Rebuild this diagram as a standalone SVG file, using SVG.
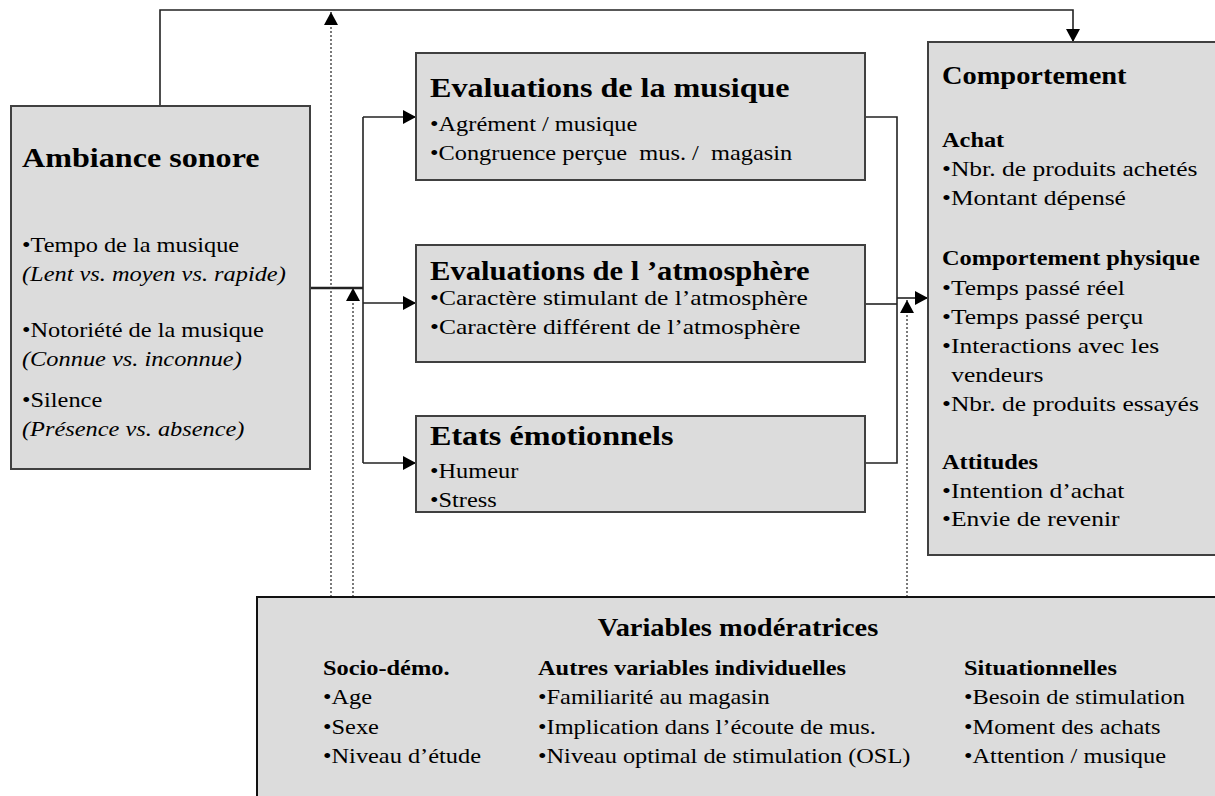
<svg xmlns="http://www.w3.org/2000/svg" width="1215" height="796" viewBox="0 0 1215 796">
<style>
.box{fill:#dcdcdc;stroke:#404040;stroke-width:2}
.box2{fill:#dcdcdc;stroke:#111;stroke-width:2}
.ln{fill:none;stroke:#222;stroke-width:1.6}
.dot{fill:none;stroke:#333;stroke-width:1.3;stroke-dasharray:2 2}
text{font-family:"Liberation Serif","Times New Roman",serif;fill:#000;font-size:21px}
.t{font-weight:bold;font-size:27.7px}
.h{font-weight:bold;font-size:24.5px}
.b{font-weight:bold}
.i{font-style:italic}
.lg{font-size:22px}
</style>
<defs>
<marker id="ar" markerUnits="userSpaceOnUse" markerWidth="14" markerHeight="14" refX="13" refY="7" orient="auto">
<path d="M0,0 L13,7 L0,14 z" fill="#000"/>
</marker>
</defs>
<g id="connectors">
<path class="ln" d="M160,106 V10 H1073 V42" marker-end="url(#ar)"/>
<path class="ln" d="M310,288 H363" style="stroke-width:2.5"/>
<path class="ln" d="M363,117 V463"/>
<path class="ln" d="M363,117 H416" marker-end="url(#ar)"/>
<path class="ln" d="M363,303 H416" marker-end="url(#ar)"/>
<path class="ln" d="M363,463 H416" marker-end="url(#ar)"/>
<path class="ln" d="M865,117 H897 V463 H865"/>
<path class="ln" d="M865,304 H897"/>
<path class="ln" d="M897,298 H928" marker-end="url(#ar)"/>
<path class="dot" d="M331,597 V12" marker-end="url(#ar)"/>
<path class="dot" d="M353,597 V288" marker-end="url(#ar)"/>
<path class="dot" d="M907,597 V300" marker-end="url(#ar)"/>
</g>
<g id="ambiance">
<rect class="box" x="11" y="106" width="299" height="363"/>
<g transform="translate(22,0) scale(1.16,1)">
<text class="t" x="0" y="167">Ambiance sonore</text>
<text x="0" y="252">•Tempo de la musique</text>
<text class="i" x="0" y="281">(Lent vs. moyen vs. rapide)</text>
<text x="0" y="337">•Notoriété de la musique</text>
<text class="i" x="0" y="366">(Connue vs. inconnue)</text>
<text x="0" y="407">•Silence</text>
<text class="i" x="0" y="436">(Présence vs. absence)</text>
</g>
</g>
<g id="eval-musique">
<rect class="box" x="416" y="53" width="449" height="127"/>
<g transform="translate(430,0) scale(1.16,1)">
<text class="t" x="0" y="97">Evaluations de la musique</text>
<text x="0" y="131">•Agrément / musique</text>
<text x="0" y="160" xml:space="preserve">•Congruence perçue  mus. /  magasin</text>
</g>
</g>
<g id="eval-atmosphere">
<rect class="box" x="416" y="245" width="449" height="117"/>
<g transform="translate(430,0) scale(1.16,1)">
<text class="t" x="0" y="280" style="font-size:26.4px">Evaluations de l ’atmosphère</text>
<text class="lg" x="0" y="305">•Caractère stimulant de l’atmosphère</text>
<text class="lg" x="0" y="334">•Caractère différent de l’atmosphère</text>
</g>
</g>
<g id="etats">
<rect class="box" x="416" y="416" width="449" height="96"/>
<g transform="translate(430,0) scale(1.16,1)">
<text class="t" x="0" y="445">Etats émotionnels</text>
<text x="0" y="478">•Humeur</text>
<text x="0" y="507">•Stress</text>
</g>
</g>
<g id="comportement">
<rect class="box" x="928" y="42" width="300" height="513"/>
<g transform="translate(942,0) scale(1.16,1)">
<text class="h" x="0" y="84">Comportement</text>
<text class="b" x="0" y="147">Achat</text>
<text class="lg" x="0" y="176">•Nbr. de produits achetés</text>
<text class="lg" x="0" y="205">•Montant dépensé</text>
<text class="b" x="0" y="265">Comportement physique</text>
<text class="lg" x="0" y="295">•Temps passé réel</text>
<text class="lg" x="0" y="324">•Temps passé perçu</text>
<text class="lg" x="0" y="353">•Interactions avec les</text>
<text class="lg" x="8" y="382">vendeurs</text>
<text class="lg" x="0" y="411">•Nbr. de produits essayés</text>
<text class="b" x="0" y="469">Attitudes</text>
<text class="lg" x="0" y="498">•Intention d’achat</text>
<text class="lg" x="0" y="526">•Envie de revenir</text>
</g>
</g>
<g id="moderatrices">
<rect class="box2" x="257" y="597" width="1000" height="250"/>
<g transform="translate(738,0) scale(1.16,1)">
<text class="h" x="0" y="636" text-anchor="middle">Variables modératrices</text>
</g>
<g transform="translate(323,0) scale(1.16,1)">
<text class="b" x="0" y="675">Socio-démo.</text>
<text x="0" y="704">•Age</text>
<text x="0" y="734">•Sexe</text>
<text x="0" y="763">•Niveau d’étude</text>
</g>
<g transform="translate(538,0) scale(1.16,1)">
<text class="b" x="0" y="675">Autres variables individuelles</text>
<text x="0" y="704">•Familiarité au magasin</text>
<text x="0" y="734">•Implication dans l’écoute de mus.</text>
<text x="0" y="763">•Niveau optimal de stimulation (OSL)</text>
</g>
<g transform="translate(964,0) scale(1.16,1)">
<text class="b" x="0" y="675">Situationnelles</text>
<text x="0" y="704">•Besoin de stimulation</text>
<text x="0" y="734">•Moment des achats</text>
<text x="0" y="763">•Attention / musique</text>
</g>
</g>
</svg>
